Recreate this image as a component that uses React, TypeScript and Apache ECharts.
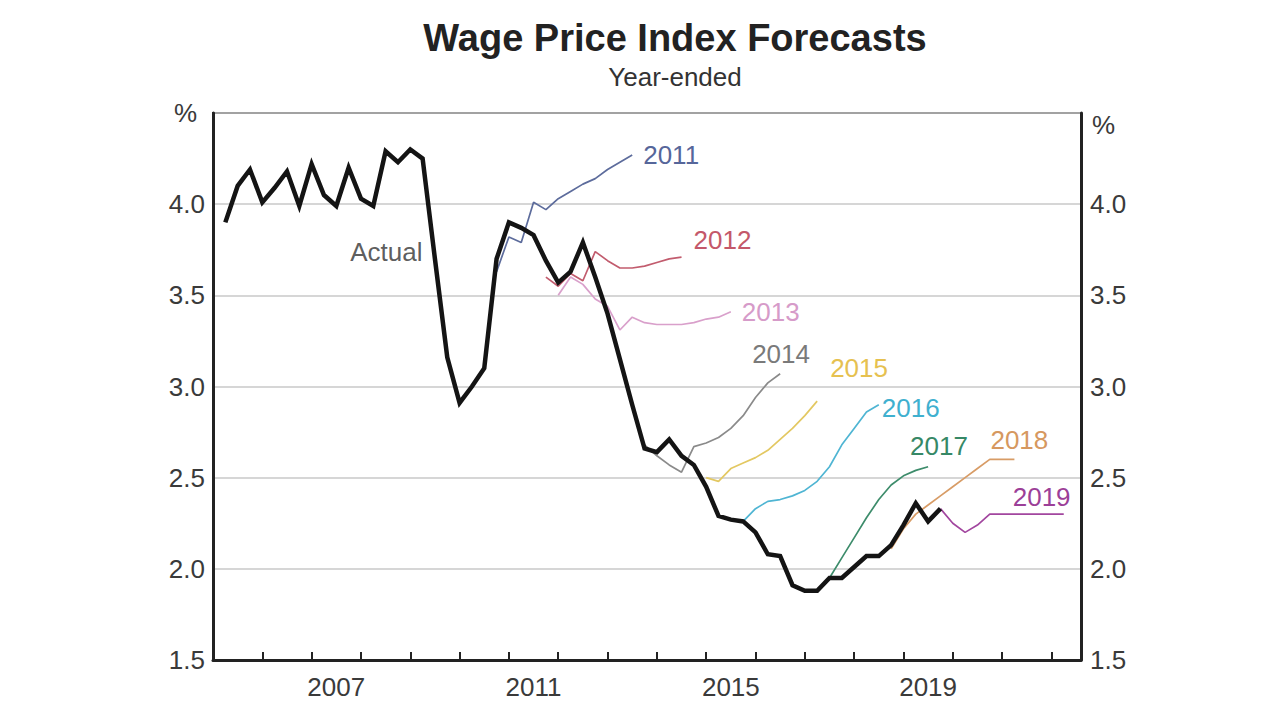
import React, { useEffect, useRef } from "react";
import * as echarts from "echarts";

const FONT = '"Liberation Sans", Arial, Helvetica, sans-serif';

// Quarterly data: index 0 = March quarter 2005, plotted at quarter end
const firstYear = 2005;

// Axis
const xMin = 2005;
const xMax = 2022.6;
const xTickYears = [2006, 2007, 2008, 2009, 2010, 2011, 2012, 2013, 2014, 2015, 2016, 2017, 2018, 2019, 2020, 2021, 2022];
const xLabelYears = [2007, 2011, 2015, 2019];
const yMin = 1.5;
const yMax = 4.5;
const yStep = 0.5;

// Actual WPI, year-ended %
const actual = [
  3.9, 4.1, 4.19, 4.01, 4.09, 4.18, 3.99, 4.22, 4.05, 3.99,
  4.2, 4.03, 3.99, 4.29, 4.23, 4.3, 4.25, 3.7, 3.16, 2.91,
  3.0, 3.1, 3.7, 3.9, 3.87, 3.83, 3.69, 3.57, 3.63, 3.79,
  3.6, 3.4, 3.15, 2.9, 2.66, 2.64, 2.71, 2.62, 2.57, 2.45,
  2.29, 2.27, 2.26, 2.2, 2.08, 2.07, 1.91, 1.88, 1.88, 1.95,
  1.95, 2.01, 2.07, 2.07, 2.13, 2.24, 2.36, 2.26, 2.33,
];
const actualLabelIndex = 17;

// Forecast vintages: start quarter index and values
const f2011Start = 22;
const f2011 = [3.63, 3.82, 3.79, 4.01, 3.97, 4.03, 4.07, 4.11, 4.14, 4.19, 4.23, 4.27];
const f2012Start = 26;
const f2012 = [3.6, 3.55, 3.62, 3.58, 3.74, 3.69, 3.65, 3.65, 3.66, 3.68, 3.7, 3.71];
const f2013Start = 27;
const f2013 = [3.5, 3.6, 3.56, 3.48, 3.44, 3.31, 3.38, 3.35, 3.34, 3.34, 3.34, 3.35, 3.37, 3.38, 3.41];
const f2014Start = 34;
const f2014 = [2.68, 2.62, 2.57, 2.53, 2.67, 2.69, 2.72, 2.77, 2.84, 2.94, 3.02, 3.07];
const f2015Start = 39;
const f2015 = [2.5, 2.48, 2.55, 2.58, 2.61, 2.65, 2.71, 2.77, 2.84, 2.92];
const f2016Start = 41;
const f2016 = [2.27, 2.26, 2.33, 2.37, 2.38, 2.4, 2.43, 2.48, 2.56, 2.68, 2.77, 2.86, 2.9];
const f2017Start = 49;
const f2017 = [1.95, 2.06, 2.17, 2.28, 2.38, 2.46, 2.51, 2.54, 2.56];
const f2018Start = 54;
const f2018 = [2.11, 2.22, 2.3, 2.35, 2.4, 2.45, 2.5, 2.55, 2.6, 2.6, 2.6];
const f2019Start = 58;
const f2019 = [2.33, 2.25, 2.2, 2.24, 2.3, 2.3, 2.3, 2.3, 2.3, 2.3, 2.3];

const qx = (i: number) => firstYear + (i + 1) / 4;

// styles for each forecast vintage
const forecastStyles = [
  { name: "2011", start: f2011Start, values: f2011, color: "#5d6c9c", labelColor: "#56669a", offset: [11, 0] },
  { name: "2012", start: f2012Start, values: f2012, color: "#c25c6e", labelColor: "#c4586a", offset: [12, -17] },
  { name: "2013", start: f2013Start, values: f2013, color: "#d9a0cb", labelColor: "#d69bc9", offset: [11, 0] },
  { name: "2014", start: f2014Start, values: f2014, color: "#8a8a8a", labelColor: "#7a7a7a", offset: [-28, -20] },
  { name: "2015", start: f2015Start, values: f2015, color: "#e3c862", labelColor: "#e6c150", offset: [13, -33] },
  { name: "2016", start: f2016Start, values: f2016, color: "#4fb5d3", labelColor: "#3fb0cf", offset: [3, 3] },
  { name: "2017", start: f2017Start, values: f2017, color: "#3d8c6b", labelColor: "#368866", offset: [-18, -21] },
  { name: "2018", start: f2018Start, values: f2018, color: "#d89c66", labelColor: "#d6985f", offset: [-24, -19] },
  { name: "2019", start: f2019Start, values: f2019, color: "#a2469f", labelColor: "#9c3f98", offset: [-51, -17] },
];

export default function App() {
  const ref = useRef<HTMLDivElement>(null);

  useEffect(() => {
    if (!ref.current) return;
    const chart = echarts.init(ref.current, null, { renderer: "svg" });

    const forecastSeries = forecastStyles.map((f) => ({
      type: "line",
      name: f.name,
      data: f.values.map((v, k) => [qx(f.start + k), v]),
      showSymbol: false,
      symbol: "none",
      z: 2,
      lineStyle: { color: f.color, width: 1.7 },
      endLabel: {
        show: true,
        formatter: f.name,
        distance: 0,
        offset: f.offset,
        fontSize: 26,
        fontFamily: FONT,
        color: f.labelColor,
        align: "left",
        verticalAlign: "middle",
      },
    }));

    const option: any = {
      animation: false,
      backgroundColor: "#ffffff",
      textStyle: { fontFamily: FONT },
      graphic: [
        {
          type: "text",
          x: 675,
          y: 38,
          style: {
            text: "Wage Price Index Forecasts",
            align: "center",
            verticalAlign: "middle",
            fontSize: 38,
            fontWeight: "bold",
            fontFamily: FONT,
            fill: "#222222",
          },
        },
        {
          type: "text",
          x: 675,
          y: 77,
          style: {
            text: "Year-ended",
            align: "center",
            verticalAlign: "middle",
            fontSize: 26,
            fontFamily: FONT,
            fill: "#333333",
          },
        },
      ],
      grid: {
        left: 213,
        right: 199,
        top: 113,
        bottom: 60,
        show: true,
        borderColor: "#333333",
        borderWidth: 2,
      },
      xAxis: {
        type: "value",
        min: xMin,
        max: xMax,
        axisLine: { show: true, onZero: false, lineStyle: { color: "#222222", width: 3 } },
        axisTick: {
          show: true,
          inside: true,
          length: 8,
          customValues: xTickYears,
          lineStyle: { color: "#222222", width: 2 },
        },
        axisLabel: {
          customValues: xLabelYears.map((y) => y + 0.5),
          formatter: (v: number) => String(Math.floor(v)),
          fontSize: 26,
          color: "#3a3a3a",
          fontFamily: FONT,
          margin: 14,
        },
        splitLine: { show: false },
      },
      yAxis: [
        {
          type: "value",
          position: "left",
          min: yMin,
          max: yMax,
          interval: yStep,
          axisLine: { show: true, lineStyle: { color: "#222222", width: 3 } },
          axisTick: { show: false },
          axisLabel: {
            formatter: (v: number) => (v >= yMax ? "{p|%}" : v.toFixed(1)),
            fontSize: 26,
            color: "#3a3a3a",
            fontFamily: FONT,
            margin: 8,
            rich: { p: { fontSize: 26, color: "#3a3a3a", fontFamily: FONT, padding: [0, 8, 0, 0] } },
          },
          splitLine: { show: true, lineStyle: { color: "#c8c8c8", width: 1.5 } },
        },
        {
          type: "value",
          position: "right",
          min: yMin,
          max: yMax,
          interval: yStep,
          axisLine: { show: true, lineStyle: { color: "#222222", width: 3 } },
          axisTick: { show: false },
          axisLabel: {
            formatter: (v: number) => (v >= yMax ? "{p|%}" : v.toFixed(1)),
            fontSize: 26,
            color: "#3a3a3a",
            fontFamily: FONT,
            margin: 9,
            rich: { p: { fontSize: 26, color: "#3a3a3a", fontFamily: FONT, padding: [24, 0, 0, 2] } },
          },
          splitLine: { show: false },
        },
      ],
      series: [
        ...forecastSeries,
        {
          type: "line",
          name: "Actual",
          data: actual.map((v, i) => [qx(i), v]),
          showSymbol: false,
          symbol: "none",
          z: 5,
          lineStyle: { color: "#141414", width: 4.5, join: "miter" },
        },
        {
          type: "scatter",
          name: "Actual label",
          data: [[qx(actualLabelIndex), actual[actualLabelIndex]]],
          symbolSize: 1,
          z: 6,
          itemStyle: { color: "rgba(0,0,0,0)" },
          label: {
            show: true,
            formatter: "Actual",
            position: "left",
            distance: 12,
            offset: [0, -7],
            fontSize: 26,
            fontFamily: FONT,
            color: "#333333",
          },
        },
      ],
    };

    chart.setOption(option);
    return () => chart.dispose();
  }, []);

  return (
    <div
      ref={ref}
      style={{ position: "fixed", left: 0, top: 0, width: 1280, height: 720, background: "#fff" }}
    />
  );
}
